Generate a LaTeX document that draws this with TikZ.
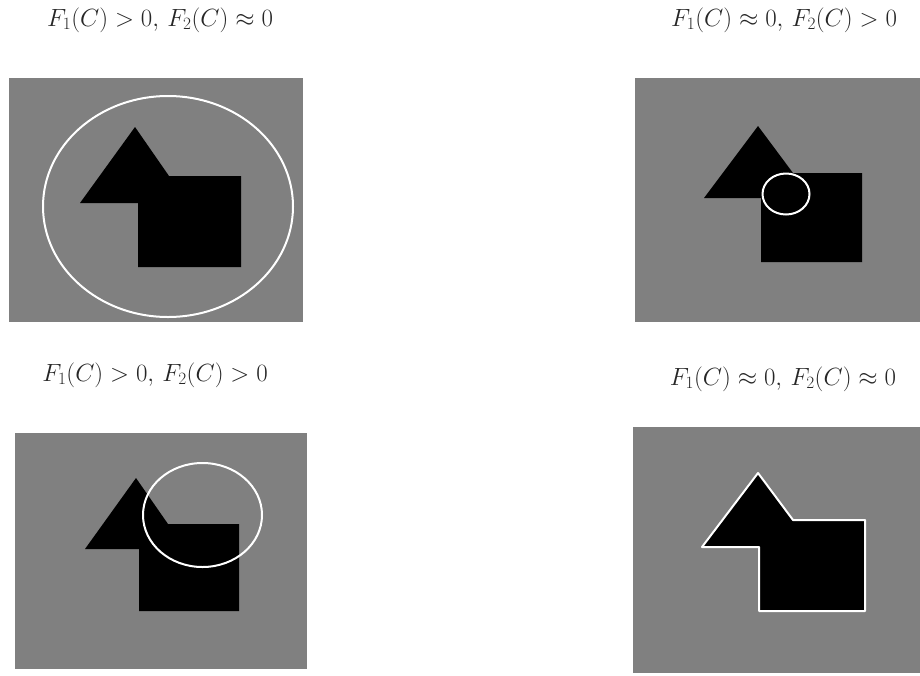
\documentclass[tikz,border=0pt]{standalone}
\usepackage{amsmath}
\begin{document}
\begin{tikzpicture}[x=1pt,y=-1pt,
  panel/.style={fill=gray50},
  blob/.style={fill=black},
  contour/.style={draw=white,line width=2pt},
  lbl/.style={font=\fontsize{24.5}{28}\selectfont, text=black!85, inner sep=0pt, anchor=center}]
\definecolor{gray50}{HTML}{808080}
\useasboundingbox (0,0) rectangle (920,675);
% labels
\node[lbl] (l1) at (160,20) {$F_1(C)>0,\,F_2(C)\approx0$};
\node[lbl] (l2) at (784,20) {$F_1(C)\approx0,\,F_2(C)>0$};
\node[lbl] (l3) at (155,375) {$F_1(C)>0,\,F_2(C)>0$};
\node[lbl] (l4) at (783,379) {$F_1(C)\approx0,\,F_2(C)\approx0$};
% panel 1
\fill[panel] (9,78) rectangle (303,322);
\fill[blob] (80,203) -- (135,127) -- (169,176) -- (241,176) -- (241,267) -- (138,267) -- (138,203) -- cycle;
\draw[contour] (168,206.5) ellipse [x radius=125, y radius=110.5];
% panel 2
\fill[panel] (635,78) rectangle (920,322);
\fill[blob] (704,198) -- (758,126) -- (793,173) -- (862,173) -- (862,262) -- (761,262) -- (761,198) -- cycle;
\draw[contour] (786,194) ellipse [x radius=23.5, y radius=20.5];
% panel 3
\fill[panel] (15,433) rectangle (307,669);
\fill[blob] (85,549) -- (136,478) -- (168,524) -- (239,524) -- (239,611) -- (139,611) -- (139,549) -- cycle;
\draw[contour] (202.5,515) ellipse [x radius=59.5, y radius=52];
% panel 4
\fill[panel] (633,427) rectangle (920,673);
\filldraw[blob,contour,line join=round] (702,547) -- (758,473) -- (793,520) -- (865,520) -- (865,611) -- (759,611) -- (759,547) -- cycle;
\end{tikzpicture}
\end{document}
